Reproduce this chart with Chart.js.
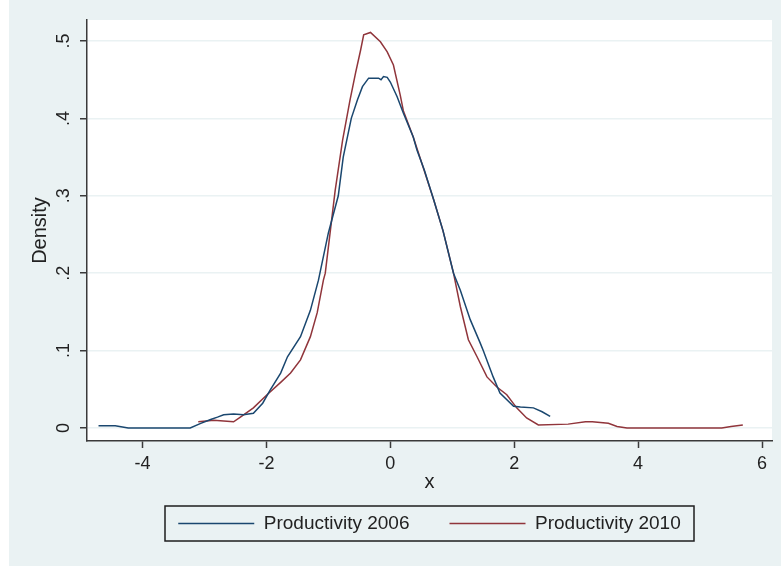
<!DOCTYPE html>
<html>
<head>
<meta charset="utf-8">
<script src="https://cdn.jsdelivr.net/npm/chart.js@4.4.1/dist/chart.umd.min.js"></script>
<style>
  html, body { margin: 0; padding: 0; background: #fff; overflow: hidden; }
  #wrap { position: absolute; left: 9px; top: 0; width: 772px; height: 566px; background: #eaf2f3; }
</style>
</head>
<body>
<div id="wrap"><canvas id="kdens" width="772" height="566"></canvas></div>
<script>
// kernel density estimates
const x2006 = [-4.71, -4.44, -4.23, -3.8, -3.23, -3.06, -2.9, -2.79, -2.69, -2.53, -2.37, -2.21, -2.06, -1.94, -1.77, -1.66, -1.45, -1.29, -1.16, -1.0, -0.84, -0.76, -0.63, -0.53, -0.45, -0.35, -0.19, -0.15, -0.11, -0.05, 0.0, 0.11, 0.21, 0.37, 0.43, 0.55, 0.7, 0.85, 1.02, 1.13, 1.29, 1.45, 1.5, 1.66, 1.77, 1.99, 2.1, 2.31, 2.45, 2.58];
const y2006 = [0.003, 0.003, 0.0, 0.0, 0.0, 0.006, 0.011, 0.014, 0.017, 0.018, 0.017, 0.019, 0.032, 0.049, 0.071, 0.092, 0.118, 0.152, 0.191, 0.252, 0.30, 0.35, 0.40, 0.424, 0.441, 0.452, 0.452, 0.450, 0.454, 0.453, 0.447, 0.428, 0.407, 0.376, 0.359, 0.333, 0.295, 0.255, 0.2, 0.178, 0.14, 0.11, 0.1, 0.066, 0.045, 0.028, 0.027, 0.026, 0.021, 0.015];

const x2010 = [-3.1, -2.85, -2.69, -2.53, -2.42, -2.21, -1.99, -1.77, -1.61, -1.45, -1.29, -1.18, -1.08, -1.05, -0.89, -0.77, -0.65, -0.56, -0.48, -0.43, -0.32, -0.16, -0.05, 0.05, 0.16, 0.21, 0.37, 0.53, 0.7, 0.85, 1.02, 1.13, 1.26, 1.4, 1.56, 1.72, 1.88, 2.04, 2.2, 2.39, 2.87, 3.15, 3.26, 3.52, 3.66, 3.82, 5.35, 5.5, 5.69];
const y2010 = [0.008, 0.010, 0.009, 0.008, 0.014, 0.026, 0.043, 0.059, 0.071, 0.088, 0.118, 0.149, 0.191, 0.2, 0.307, 0.372, 0.424, 0.459, 0.488, 0.508, 0.511, 0.499, 0.486, 0.469, 0.43, 0.41, 0.376, 0.337, 0.295, 0.255, 0.2, 0.157, 0.114, 0.092, 0.066, 0.053, 0.043, 0.026, 0.013, 0.004, 0.005, 0.008, 0.008, 0.006, 0.002, 0.0, 0.0, 0.002, 0.004];

const seriesNames = ['Productivity 2006', 'Productivity 2010'];
const xTicks = [-4, -2, 0, 2, 4, 6];
const yTicks = [0, 0.1, 0.2, 0.3, 0.4, 0.5];
const yTickLabels = ['0', '.1', '.2', '.3', '.4', '.5'];

const toPoints = (xs, ys) => xs.map((x, i) => ({ x: x, y: ys[i] }));

const FONT = '"Liberation Sans", Arial, sans-serif';
const INK = '#222';
const AXIS = '#3a3a3a';

// white plot region on the grey graph region
const plotBg = {
    id: 'plotBg',
    beforeDraw(chart) {
        const a = chart.chartArea;
        const ctx = chart.ctx;
        ctx.save();
        ctx.fillStyle = '#ffffff';
        ctx.fillRect(a.left, a.top, a.right - a.left, a.bottom - a.top);
        ctx.restore();
    }
};

// Stata style frame round the legend
const legendFrame = {
    id: 'legendFrame',
    afterDraw(chart) {
        const lg = chart.legend;
        if (!lg) return;
        const pad = lg.options.labels.padding;
        const cx = (lg.left + lg.right) / 2;
        const cy = lg.top + pad + 19 / 2;
        const ctx = chart.ctx;
        ctx.save();
        ctx.strokeStyle = '#1e1e1e';
        ctx.lineWidth = 1.5;
        ctx.strokeRect(cx - 264.5, cy - 17.5, 529, 35);
        ctx.restore();
    }
};

new Chart(document.getElementById('kdens'), {
    type: 'scatter',
    data: {
        datasets: [
            {
                label: seriesNames[0],
                data: toPoints(x2006, y2006),
                showLine: true,
                borderColor: '#1a476f',
                backgroundColor: '#1a476f',
                borderWidth: 1.5,
                pointRadius: 0,
                tension: 0
            },
            {
                label: seriesNames[1],
                data: toPoints(x2010, y2010),
                showLine: true,
                borderColor: '#90353b',
                backgroundColor: '#90353b',
                borderWidth: 1.5,
                pointRadius: 0,
                tension: 0
            }
        ]
    },
    options: {
        responsive: false,
        animation: false,
        devicePixelRatio: 1,
        layout: { padding: { top: 20, right: 9, bottom: 23, left: 0 } },
        plugins: {
            tooltip: { enabled: false },
            legend: {
                position: 'bottom',
                fullSize: false,
                labels: {
                    usePointStyle: true,
                    pointStyle: 'line',
                    pointStyleWidth: 76,
                    padding: 40,
                    color: INK,
                    font: { family: FONT, size: 19 }
                }
            }
        },
        scales: {
            x: {
                type: 'linear',
                min: -4.896,
                max: 6.161,
                afterBuildTicks: s => { s.ticks = xTicks.map(v => ({ value: v })); },
                afterFit: s => { s.height = 33; },
                ticks: {
                    autoSkip: false,
                    maxRotation: 0,
                    padding: 5,
                    color: INK,
                    font: { family: FONT, size: 18 },
                    callback: v => String(v)
                },
                grid: {
                    display: true,
                    drawOnChartArea: false,
                    drawTicks: true,
                    tickLength: 7,
                    tickColor: AXIS,
                    tickWidth: 1.5
                },
                border: { display: true, color: AXIS, width: 1.5 },
                title: {
                    display: true,
                    text: 'x',
                    color: INK,
                    font: { family: FONT, size: 20 },
                    padding: { top: 0, bottom: -20 }
                }
            },
            y: {
                type: 'linear',
                min: -0.0168,
                max: 0.5271,
                afterBuildTicks: s => { s.ticks = yTicks.map(v => ({ value: v })); },
                afterFit: s => { s.width = 78; },
                ticks: {
                    autoSkip: false,
                    minRotation: 90,
                    maxRotation: 90,
                    crossAlign: 'center',
                    padding: 8.5,
                    color: INK,
                    font: { family: FONT, size: 18 },
                    callback: (v, i) => yTickLabels[i]
                },
                grid: {
                    display: true,
                    drawOnChartArea: true,
                    drawTicks: true,
                    tickLength: 7,
                    color: '#eaf2f3',
                    lineWidth: 1.5,
                    tickColor: AXIS,
                    tickWidth: 1.5
                },
                border: { display: true, color: AXIS, width: 1.5 },
                title: {
                    display: true,
                    text: 'Density',
                    color: INK,
                    font: { family: FONT, size: 20 },
                    padding: { top: 19, bottom: 0 }
                }
            }
        }
    },
    plugins: [plotBg, legendFrame]
});
</script>
</body>
</html>
